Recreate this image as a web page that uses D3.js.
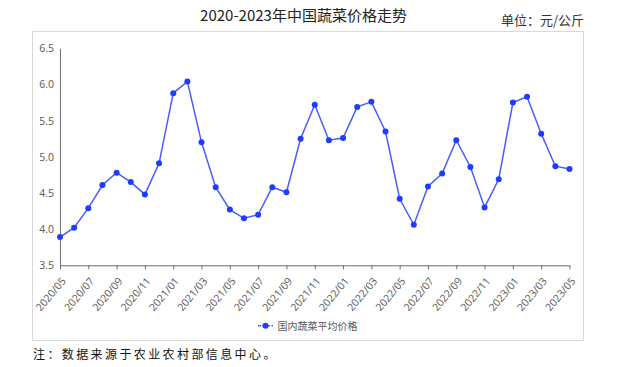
<!DOCTYPE html>
<html><head><meta charset="utf-8">
<script src="https://cdn.jsdelivr.net/npm/d3@7/dist/d3.min.js"></script>
<style>
html,body{margin:0;padding:0;background:#fff;}
svg{display:block;}
</style></head>
<body>
<svg id="chart" width="618" height="367"></svg>
<script>
const months = ["2020/05","2020/06","2020/07","2020/08","2020/09","2020/10","2020/11","2020/12",
"2021/01","2021/02","2021/03","2021/04","2021/05","2021/06","2021/07","2021/08","2021/09","2021/10","2021/11","2021/12",
"2022/01","2022/02","2022/03","2022/04","2022/05","2022/06","2022/07","2022/08","2022/09","2022/10","2022/11","2022/12",
"2023/01","2023/02","2023/03","2023/04","2023/05"];
const prices = [3.89,4.02,4.29,4.61,4.78,4.65,4.48,4.91,
5.88,6.04,5.20,4.58,4.27,4.15,4.20,4.58,4.51,5.25,5.72,5.23,
5.26,5.69,5.76,5.35,4.42,4.06,4.59,4.77,5.23,4.86,4.30,4.69,
5.75,5.83,5.32,4.87,4.83];
const xTickLabels = ["2020/05","2020/07","2020/09","2020/11","2021/01","2021/03","2021/05","2021/07","2021/09","2021/11",
"2022/01","2022/03","2022/05","2022/07","2022/09","2022/11","2023/01","2023/03","2023/05"];
const yTicks = [3.5,4.0,4.5,5.0,5.5,6.0,6.5];
const titleText = "2020-2023年中国蔬菜价格走势";
const unitText = "单位：元/公斤";
const seriesName = "国内蔬菜平均价格";
const noteText = "注：数据来源于农业农村部信息中心。";

const svg = d3.select("#chart");
const cjk = "'Noto Sans CJK SC', 'Noto Sans', sans-serif";
const latin = "'Open Sans', 'Noto Sans', sans-serif";

// frame
svg.append("rect").attr("x",32.5).attr("y",31.5).attr("width",551).attr("height",309)
  .attr("fill","#fff").attr("stroke","#d9d9d9").attr("stroke-width",1);

// title
svg.append("text").attr("x",303.5).attr("y",21).attr("text-anchor","middle")
  .attr("font-family",cjk).attr("font-size",15).attr("fill","#222")
  .text(titleText);
svg.append("text").attr("x",584).attr("y",25).attr("text-anchor","end")
  .attr("font-family",cjk).attr("font-size",13).attr("fill","#333")
  .text(unitText);

const x = d3.scalePoint().domain(months).range([60,569.5]);
const y = d3.scaleLinear().domain([3.5,6.5]).range([265.3,48.3]);

// y axis
const yAxis = svg.append("g").attr("transform","translate(60,0)")
  .call(d3.axisLeft(y).tickValues(yTicks).tickFormat(d3.format(".1f")).tickSize(0).tickPadding(6));
yAxis.select(".domain").attr("stroke","#6e6e6e");
yAxis.selectAll("text").attr("font-family",latin).attr("font-size",10.5).attr("fill","#595959");

// x axis
const xAxis = svg.append("g").attr("transform","translate(0,265.3)")
  .call(d3.axisBottom(x).tickValues(xTickLabels).tickSize(4).tickSizeOuter(0));
xAxis.select(".domain").attr("stroke","#6e6e6e");
xAxis.selectAll(".tick line").attr("stroke","#6e6e6e");
xAxis.selectAll("text").attr("font-family",latin).attr("font-size",10.5).attr("fill","#595959")
  .attr("text-anchor","end").attr("x",0).attr("y",0).attr("dy",0)
  .attr("transform","translate(6,16) rotate(-50)");

// line
const line = d3.line().x((d,i)=>x(months[i])).y(d=>y(d));
svg.append("path").datum(prices).attr("d",line).attr("fill","none")
  .attr("stroke","#4a5cff").attr("stroke-width",1.5);
svg.selectAll("circle.pt").data(prices).enter().append("circle").attr("class","pt")
  .attr("cx",(d,i)=>x(months[i])).attr("cy",d=>y(d)).attr("r",3)
  .attr("fill","#1e3cff");

// legend
const lg = svg.append("g").attr("transform","translate(258,325.7)");
lg.append("line").attr("x1",0).attr("x2",15).attr("y1",0).attr("y2",0)
  .attr("stroke","#4a5cff").attr("stroke-width",1.5).attr("stroke-dasharray","3,1.5");
lg.append("circle").attr("cx",7.5).attr("cy",0).attr("r",3).attr("fill","#1e3cff");
lg.append("text").attr("x",19.5).attr("y",3.8).attr("font-family",cjk).attr("font-size",10)
  .attr("fill","#595959").text(seriesName);

// note
svg.append("text").attr("x",33).attr("y",359).attr("font-family",cjk).attr("font-size",12)
  .attr("letter-spacing",2.4).attr("fill","#111").text(noteText);
</script>
</body></html>
